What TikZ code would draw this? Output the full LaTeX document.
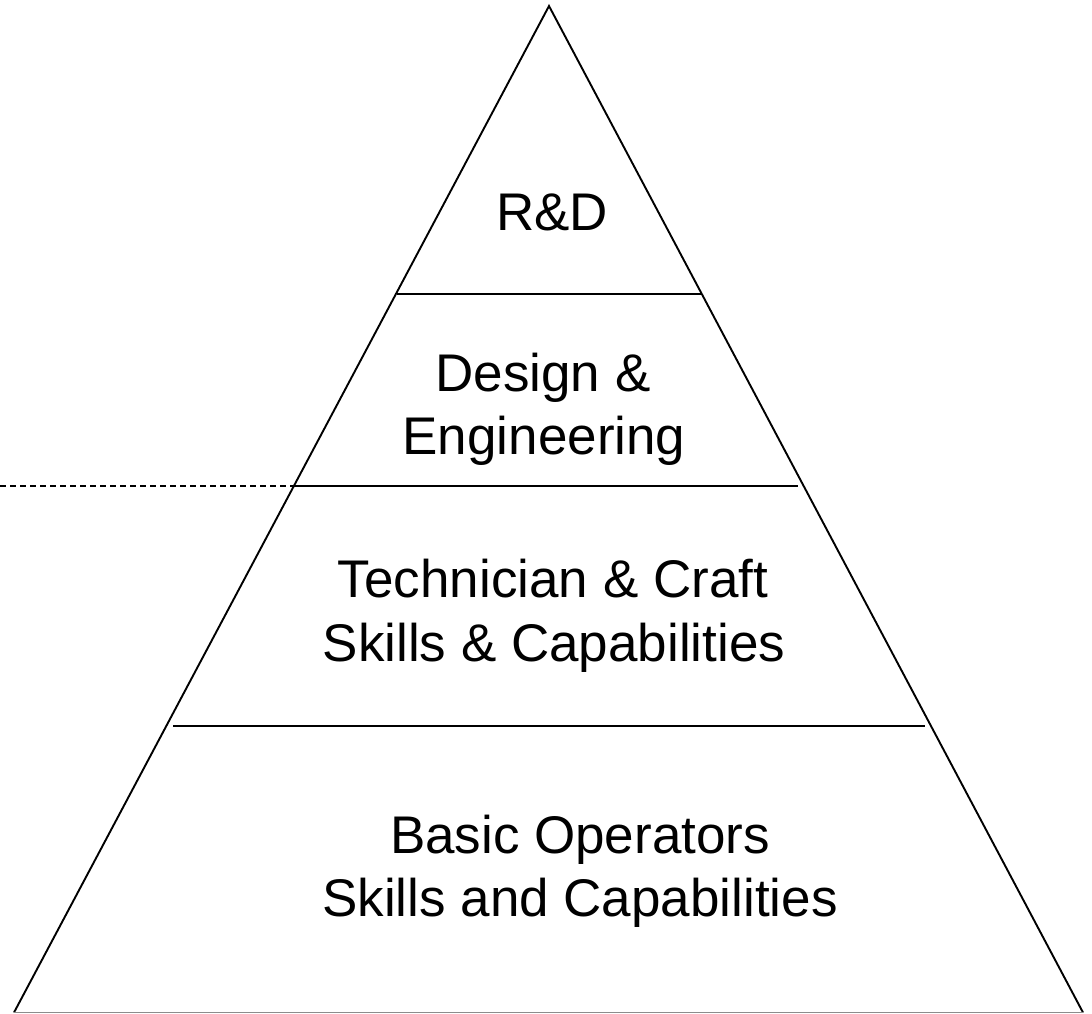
\documentclass[tikz,border=0pt]{standalone}
\usepackage{fontspec}
\setmainfont{Liberation Sans}
\begin{document}
\begin{tikzpicture}[x=1pt,y=-1pt,
  edge/.style={line width=1.9pt,black},
  lbl/.style={anchor=base,inner sep=0pt,font=\fontsize{53}{62}\selectfont}]
\useasboundingbox (0,0) rectangle (1092,1014);
\coordinate (apex) at (549,6);
\coordinate (bl) at (14,1012.5);
\coordinate (br) at (1083,1012.5);
\draw[edge,line join=miter] (bl) -- (apex) -- (br);
\draw[line width=1.9pt,black!45] (bl) -- (br);
\coordinate (l1a) at (397,294); \coordinate (l1b) at (702,294);
\coordinate (l2a) at (295,486); \coordinate (l2b) at (798,486);
\coordinate (l3a) at (173,726); \coordinate (l3b) at (925,726);
\coordinate (d0) at (0,486);
\draw[edge] (l1a) -- (l1b);
\draw[edge] (l2a) -- (l2b);
\draw[edge] (l3a) -- (l3b);
\draw[line width=1.7pt,dash pattern=on 6pt off 4pt] (d0) -- (l2a);
\node[lbl] (rd) at (552,230) {R\&D};
\node[lbl] (de1) at (543,391) {Design \&};
\node[lbl] (de2) at (544,454) {Engineering};
\node[lbl] (tc1) at (553,597) {Technician \& Craft};
\node[lbl] (tc2) at (554,661) {Skills \& Capabilities};
\node[lbl] (bo1) at (580,853) {Basic Operators};
\node[lbl] (bo2) at (580,916) {Skills and Capabilities};
\end{tikzpicture}
\end{document}
